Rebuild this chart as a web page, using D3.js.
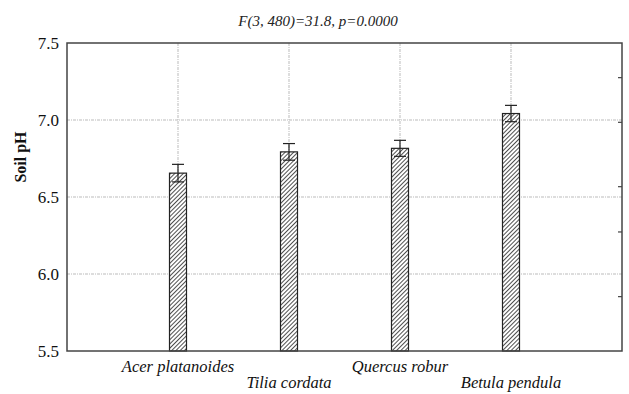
<!DOCTYPE html>
<html>
<head>
<meta charset="utf-8">
<script src="https://cdn.jsdelivr.net/npm/d3@7"></script>
<style>
  body { margin: 0; background: #fff; }
  svg { display: block; font-family: "Liberation Serif", "DejaVu Serif", serif; }
</style>
</head>
<body>
<svg id="chart" width="629" height="394"></svg>
<script>
// values
const species = ["Acer platanoides", "Tilia cordata", "Quercus robur", "Betula pendula"];
const means = [6.655, 6.793, 6.816, 7.042];
const errs = [0.057, 0.054, 0.052, 0.053];
const yTicks = [5.5, 6.0, 6.5, 7.0, 7.5];
const rightTicks = [7.275, 6.985, 6.567, 6.273, 5.853];
const title = "F(3, 480)=31.8, p=0.0000";

const svg = d3.select("#chart");
const margin = { top: 43, right: 7, bottom: 43, left: 67 };
const width = 629, height = 394;
const innerWidth = width - margin.left - margin.right;
const innerHeight = height - margin.top - margin.bottom;

const data = species.map((s, i) => ({ name: s, mean: means[i], err: errs[i], pos: i + 1 }));

var xScale = d3.scaleLinear().domain([0, species.length + 1]).range([0, innerWidth]);
var yScale = d3.scaleLinear().domain([5.5, 7.5]).range([innerHeight, 0]);

// hatch pattern
const defs = svg.append("defs");
const pat = defs.append("pattern")
  .attr("id", "hatch")
  .attr("patternUnits", "userSpaceOnUse")
  .attr("width", 3).attr("height", 3)
  .attr("patternTransform", "rotate(45)");
pat.append("rect").attr("width", 3).attr("height", 3).attr("fill", "#fff");
pat.append("line").attr("x1", 0).attr("y1", 0).attr("x2", 0).attr("y2", 3)
  .attr("stroke", "#222").attr("stroke-width", 1.6);

const g = svg.append("g").attr("transform", `translate(${margin.left}, ${margin.top})`);

// grid
g.selectAll(".hgrid")
  .data(yTicks.filter(t => t > 5.5 && t < 7.5))
  .enter().append("line")
  .attr("x1", 0).attr("x2", innerWidth)
  .attr("y1", d => yScale(d)).attr("y2", d => yScale(d))
  .attr("stroke", "#bbb").attr("stroke-width", 1)
  .attr("stroke-dasharray", "3,1,1,1");

g.selectAll(".vgrid")
  .data(data)
  .enter().append("line")
  .attr("x1", d => xScale(d.pos)).attr("x2", d => xScale(d.pos))
  .attr("y1", 0).attr("y2", innerHeight)
  .attr("stroke", "#bbb").attr("stroke-width", 1)
  .attr("stroke-dasharray", "3,1,1,1");

// bars
const barW = 17;
g.selectAll(".bar")
  .data(data)
  .enter().append("rect")
  .attr("x", d => xScale(d.pos) - barW / 2)
  .attr("y", d => yScale(d.mean))
  .attr("width", barW)
  .attr("height", d => innerHeight - yScale(d.mean))
  .attr("fill", "url(#hatch)")
  .attr("stroke", "#222").attr("stroke-width", 1.2);

// error bars
const capW = 12;
const eb = g.selectAll(".err").data(data).enter().append("g").attr("stroke", "#222").attr("stroke-width", 1.2);
eb.append("line")
  .attr("x1", d => xScale(d.pos)).attr("x2", d => xScale(d.pos))
  .attr("y1", d => yScale(d.mean + d.err)).attr("y2", d => yScale(d.mean - d.err));
eb.append("line")
  .attr("x1", d => xScale(d.pos) - capW / 2).attr("x2", d => xScale(d.pos) + capW / 2)
  .attr("y1", d => yScale(d.mean + d.err)).attr("y2", d => yScale(d.mean + d.err));
eb.append("line")
  .attr("x1", d => xScale(d.pos) - capW / 2).attr("x2", d => xScale(d.pos) + capW / 2)
  .attr("y1", d => yScale(d.mean - d.err)).attr("y2", d => yScale(d.mean - d.err));

// frame
g.append("rect")
  .attr("width", innerWidth).attr("height", innerHeight)
  .attr("fill", "none").attr("stroke", "#444").attr("stroke-width", 1.5);

// right inner ticks
g.selectAll(".rtick")
  .data(rightTicks)
  .enter().append("line")
  .attr("x1", innerWidth - 4).attr("x2", innerWidth)
  .attr("y1", d => yScale(d)).attr("y2", d => yScale(d))
  .attr("stroke", "#444").attr("stroke-width", 1.2);

// y tick labels
g.selectAll(".ylab")
  .data(yTicks)
  .enter().append("text")
  .attr("x", -8)
  .attr("y", d => yScale(d))
  .attr("dy", "0.35em")
  .attr("text-anchor", "end")
  .style("font-size", "17px")
  .attr("fill", "#111")
  .text(d => d3.format(".1f")(d));

// category labels (staggered)
g.selectAll(".xlab")
  .data(data)
  .enter().append("text")
  .attr("x", d => xScale(d.pos))
  .attr("y", (d, i) => innerHeight + (i % 2 === 0 ? 21 : 37))
  .attr("text-anchor", "middle")
  .style("font-size", "16.5px")
  .style("font-style", "italic")
  .attr("fill", "#111")
  .text(d => d.name);

// y axis title
svg.append("text")
  .attr("transform", `translate(26, ${margin.top + innerHeight / 2 - 40}) rotate(-90)`)
  .attr("text-anchor", "middle")
  .style("font-size", "16px")
  .style("font-weight", "bold")
  .attr("fill", "#111")
  .text("Soil pH");

// title
svg.append("text")
  .attr("x", 318).attr("y", 26)
  .attr("text-anchor", "middle")
  .style("font-size", "15px")
  .style("font-style", "italic")
  .attr("fill", "#222")
  .text(title);
</script>
</body>
</html>
